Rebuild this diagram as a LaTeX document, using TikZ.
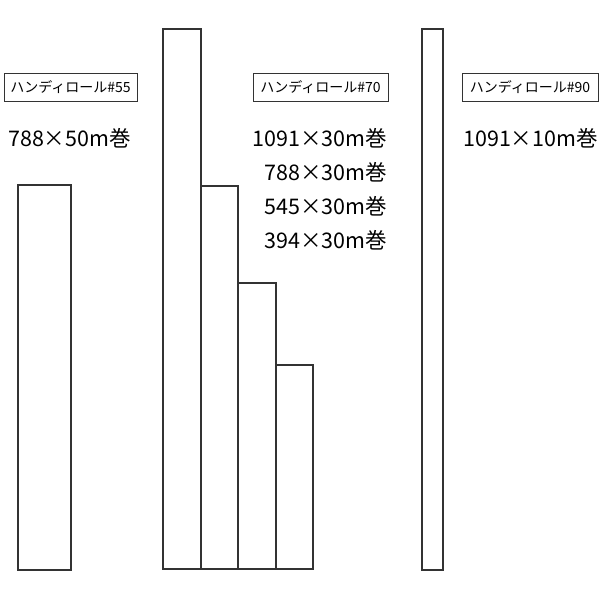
\documentclass[tikz,border=0pt]{standalone}
\usepackage{fontspec}
\setmainfont{Noto Sans CJK JP}
\begin{document}
\begin{tikzpicture}[x=1pt,y=-1pt,
  roll/.style={draw=black!80,line width=1.3pt,fill=white},
  tag/.style={draw=black!80,line width=1pt,inner sep=0pt,minimum height=28pt,font=\fontsize{14}{16}\selectfont},
  size/.style={inner sep=0pt,font=\fontsize{21.5}{24}\selectfont}]
\useasboundingbox (0,0) rectangle (600,600);
% rolls
\draw[roll] (18,185) rectangle (71,570);
\draw[roll] (163,29) rectangle (201,569);
\draw[roll] (201,186) rectangle (238,569);
\draw[roll] (238,283) rectangle (276,569);
\draw[roll] (276,365) rectangle (313,569);
\draw[roll] (422,29) rectangle (443,570);
% tags
\node[tag,minimum width=133pt] (t55) at (70.5,87.5) {ハンディロール\#55};
\node[tag,minimum width=135pt] (t70) at (320.5,87.5) {ハンディロール\#70};
\node[tag,minimum width=136pt] (t90) at (530,87.5) {ハンディロール\#90};
% sizes
\node[size,anchor=west] (s55) at (8,138) {788×50m巻};
\node[size,anchor=east] (s70a) at (387,138) {1091×30m巻};
\node[size,anchor=east] (s70b) at (387,172) {788×30m巻};
\node[size,anchor=east] (s70c) at (387,206) {545×30m巻};
\node[size,anchor=east] (s70d) at (387,240) {394×30m巻};
\node[size,anchor=west] (s90) at (463,138) {1091×10m巻};
\end{tikzpicture}
\end{document}
